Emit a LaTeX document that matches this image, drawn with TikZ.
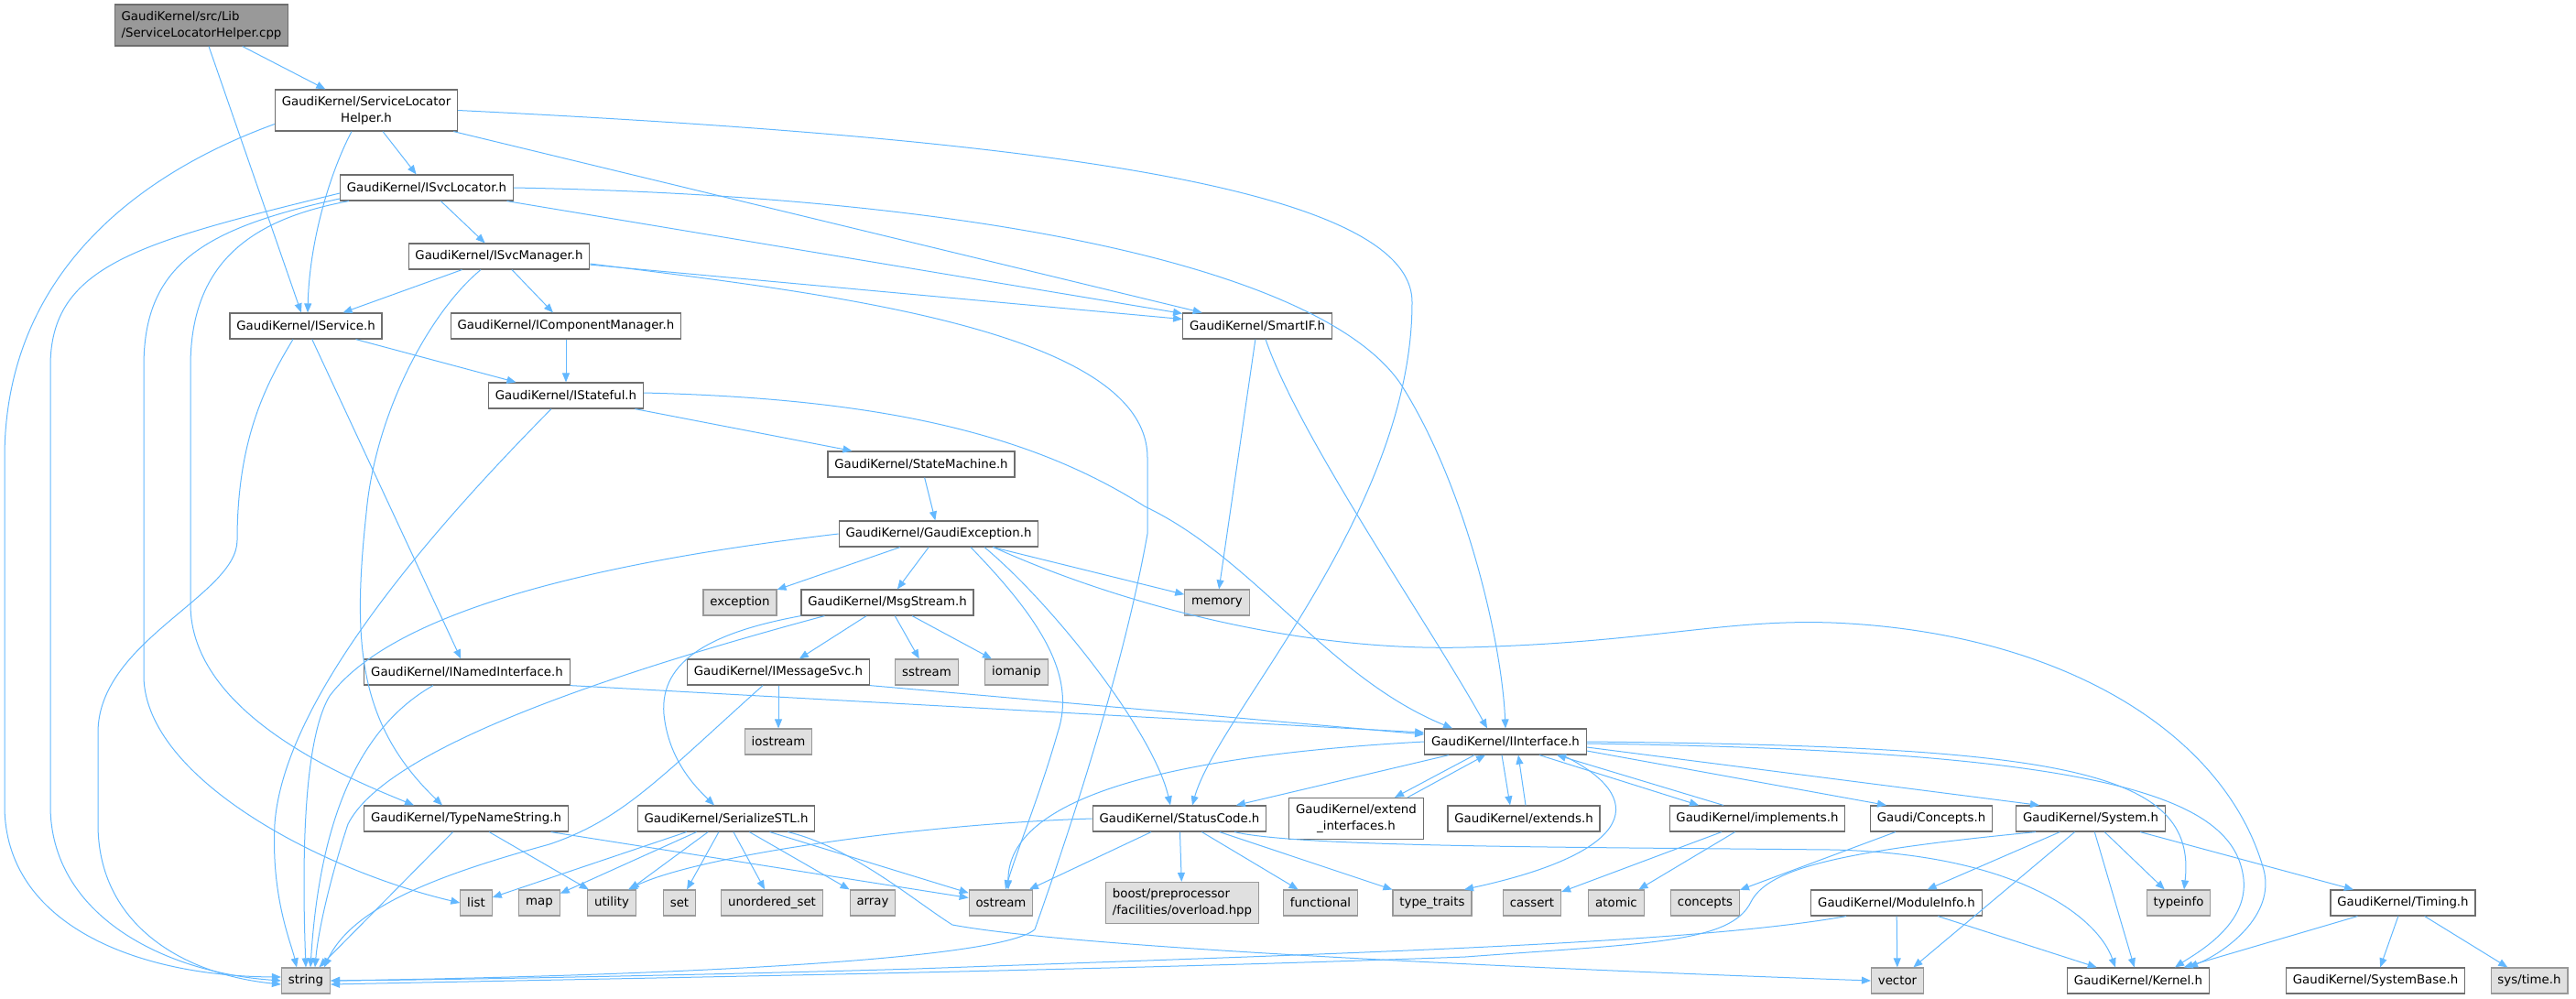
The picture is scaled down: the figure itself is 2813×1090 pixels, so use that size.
\documentclass[tikz,border=0pt]{standalone}
\usepackage{fontspec}
\setmainfont{DejaVu Sans}
\usetikzlibrary{arrows.meta,positioning,calc}
\definecolor{incblue}{RGB}{99,184,255}
\definecolor{boxline}{RGB}{110,110,110}
\definecolor{sysline}{RGB}{153,153,153}
\definecolor{sysfill}{RGB}{224,224,224}
\definecolor{rootfill}{RGB}{153,153,153}

\begin{document}
\begin{tikzpicture}[x=0.75pt, y=-0.75pt,
  hdr/.style={draw=boxline, fill=white, line width=0.9pt, font=\fontsize{10}{13.3}\selectfont,
    inner xsep=5.5pt, inner ysep=0pt, minimum height=21pt},
  sysbox/.style={hdr, draw=sysline, fill=sysfill},
  rootbox/.style={hdr, fill=rootfill, minimum height=33.75pt},
  twoline/.style={minimum height=33.75pt},
  dep/.style={draw=incblue, line width=0.75pt, -{Triangle[length=7.5pt,width=6pt]}}]
  \useasboundingbox (0,0) rectangle (2813,1090);
  % --- upper headers
  \node[rootbox, align=left] (cpp) at (220,27.5) {GaudiKernel/src/Lib\\/ServiceLocatorHelper.cpp};
  \node[hdr, twoline, align=center] (slh) at (400,120.5) {GaudiKernel/ServiceLocator\\Helper.h};
  \node[hdr] (isl) at (466,205) {GaudiKernel/ISvcLocator.h};
  \node[hdr] (ism) at (545,280) {GaudiKernel/ISvcManager.h};
  \node[hdr] (isv) at (334,356) {GaudiKernel/IService.h};
  \node[hdr] (icm) at (618,356) {GaudiKernel/IComponentManager.h};
  \node[hdr] (sif) at (1373,356) {GaudiKernel/SmartIF.h};
  \node[hdr] (ist) at (618,432) {GaudiKernel/IStateful.h};
  \node[hdr] (stm) at (1006,507) {GaudiKernel/StateMachine.h};
  \node[hdr] (gex) at (1025,583) {GaudiKernel/GaudiException.h};
  \node[sysbox] (exc) at (808,658) {exception};
  \node[hdr] (msg) at (969,658) {GaudiKernel/MsgStream.h};
  \node[sysbox] (mem) at (1329,658) {memory};
  \node[hdr] (ini) at (510,734) {GaudiKernel/INamedInterface.h};
  \node[hdr] (ims) at (850,734) {GaudiKernel/IMessageSvc.h};
  \node[sysbox] (sst) at (1012,734) {sstream};
  \node[sysbox] (iom) at (1110,734) {iomanip};
  \node[sysbox] (ios) at (850,810) {iostream};
  \node[hdr] (iif) at (1644,810) {GaudiKernel/IInterface.h};
  % --- middle row
  \node[hdr] (tns) at (509,894) {GaudiKernel/TypeNameString.h};
  \node[hdr] (ser) at (793,894) {GaudiKernel/SerializeSTL.h};
  \node[hdr] (stc) at (1288,894) {GaudiKernel/StatusCode.h};
  \node[hdr, twoline, align=center] (exi) at (1481,894) {GaudiKernel/extend\\\_interfaces.h};
  \node[hdr] (ext) at (1664,894) {GaudiKernel/extends.h};
  \node[hdr] (imp) at (1919,894) {GaudiKernel/implements.h};
  \node[hdr] (cpt) at (2109,894) {Gaudi/Concepts.h};
  \node[hdr] (sysh) at (2283,894) {GaudiKernel/System.h};
  % --- lower rows
  \node[sysbox] (lst) at (520,986) {list};
  \node[sysbox] (map) at (589,986) {map};
  \node[sysbox] (utl) at (668,986) {utility};
  \node[sysbox] (set) at (742,986) {set};
  \node[sysbox] (uos) at (843,986) {unordered\_set};
  \node[sysbox] (arr) at (953,986) {array};
  \node[sysbox] (ost) at (1093,986) {ostream};
  \node[sysbox, twoline, align=left] (bst) at (1291,986) {boost/preprocessor\\/facilities/overload.hpp};
  \node[sysbox] (fun) at (1442,986) {functional};
  \node[sysbox] (ttr) at (1564,986) {type\_traits};
  \node[sysbox] (cas) at (1673,986) {cassert};
  \node[sysbox] (atm) at (1765,986) {atomic};
  \node[sysbox] (ccp) at (1862,986) {concepts};
  \node[hdr] (mod) at (2071,986) {GaudiKernel/ModuleInfo.h};
  \node[sysbox] (tin) at (2379,986) {typeinfo};
  \node[hdr] (tim) at (2624,986) {GaudiKernel/Timing.h};
  \node[sysbox] (str) at (334,1071) {string};
  \node[sysbox] (vec) at (2072,1071) {vector};
  \node[hdr] (ker) at (2335,1071) {GaudiKernel/Kernel.h};
  \node[hdr] (sbs) at (2594,1071) {GaudiKernel/SystemBase.h};
  \node[sysbox] (stime) at (2762,1071) {sys/time.h};

  % --- source file and ServiceLocatorHelper.h
  \draw[dep] (cpp) -- (slh);
  \draw[dep] (cpp) -- (isv);
  \draw[dep] (slh) -- (isl);
  \draw[dep] ($(slh.south)+(-16,0)$) .. controls (362,185) and (338,260) .. ($(isv.north)+(2,0)$);
  \draw[dep] (slh) -- (sif);
  \draw[dep] ($(slh.west)+(0,15)$) .. controls (150,190) and (5,300) .. (5,500) -- (5,880) .. controls (5,1010) and (150,1066) .. ($(str.west)+(0,-4)$);
  \draw[dep] (slh.east) .. controls (1100,150) and (1542,200) .. (1542,330) .. controls (1542,560) and (1330,780) .. ($(stc.north)+(14,0)$);
  % --- ISvcLocator.h
  \draw[dep] (isl) -- (ism);
  \draw[dep] (isl) -- (sif);
  \draw[dep] (isl.east) .. controls (1100,215) and (1450,300) .. (1530,420) .. controls (1600,530) and (1640,700) .. (iif.north);
  \draw[dep] ($(isl.west)+(0,6)$) .. controls (150,265) and (55,290) .. (55,400) -- (55,880) .. controls (55,1000) and (180,1062) .. (str.west);
  \draw[dep] ($(isl.west)+(0,12)$) .. controls (220,250) and (157,290) .. (157,400) -- (157,740) .. controls (160,850) and (350,950) .. (lst.west);
  \draw[dep] ($(isl.south west)+(10,0)$) .. controls (270,240) and (208,290) .. (208,400) -- (208,660) .. controls (208,780) and (380,850) .. ($(tns.north)+(-57,0)$);
  % --- ISvcManager.h
  \draw[dep] (ism) -- (isv);
  \draw[dep] (ism) -- (icm);
  \draw[dep] (ism) -- (sif);
  \draw[dep] ($(ism.south)+(-20,0)$) .. controls (470,340) and (410,450) .. (400,560) .. controls (385,700) and (390,790) .. ($(tns.north)+(-26,0)$);
  \draw[dep] ($(ism.east)+(0,8)$) .. controls (900,320) and (1253,360) .. (1253,500) -- (1253,583) .. controls (1225,740) and (1160,930) .. (1130,1015) .. controls (1090,1050) and (700,1066) .. (str.east);
  % --- IService.h, IComponentManager.h, IStateful.h
  \draw[dep] (isv) -- (ist);
  \draw[dep] (isv) -- (ini);
  \draw[dep] ($(isv.south)+(-14,0)$) .. controls (290,420) and (259,480) .. (259,590) .. controls (259,650) and (107,700) .. (107,800) -- (107,900) .. controls (107,1010) and (200,1064) .. ($(str.west)+(0,4)$);
  \draw[dep] (icm) -- (ist);
  \draw[dep] (ist) -- (stm);
  \draw[dep] ($(ist.east)+(0,-3)$) .. controls (950,435) and (1120,470) .. (1250,553) .. controls (1370,610) and (1450,740) .. ($(iif.north)+(-58,0)$);
  \draw[dep] ($(ist.south)+(-16,0)$) .. controls (480,570) and (310,760) .. (300,900) .. controls (296,980) and (318,1030) .. ($(str.north)+(-10,0)$);
  % --- SmartIF.h
  \draw[dep] (sif) -- (mem);
  \draw[dep] ($(sif.south)+(9,0)$) .. controls (1420,480) and (1560,680) .. ($(iif.north)+(-20,0)$);
  % --- StateMachine.h, GaudiException.h
  \draw[dep] (stm) -- (gex);
  \draw[dep] (gex) -- (exc);
  \draw[dep] (gex) -- (msg);
  \draw[dep] (gex) -- (mem);
  \draw[dep] (gex.west) .. controls (600,620) and (420,680) .. (360,760) .. controls (330,810) and (330,950) .. (str.north);
  \draw[dep] ($(gex.south)+(35,0)$) .. controls (1140,680) and (1175,740) .. (1155,800) .. controls (1135,870) and (1110,930) .. ($(ost.north)+(5,0)$);
  \draw[dep] ($(gex.south)+(50,0)$) .. controls (1150,660) and (1260,800) .. ($(stc.north)+(-10,0)$);
  \draw[dep] ($(gex.south)+(60,0)$) .. controls (1200,650) and (1400,712) .. (1600,707) .. controls (1800,702) and (1880,676) .. (2000,680) .. controls (2250,690) and (2430,800) .. (2472,950) .. controls (2485,1000) and (2430,1040) .. ($(ker.north)+(55,0)$);
  % --- MsgStream.h, IMessageSvc.h, INamedInterface.h
  \draw[dep] (msg) -- (ims);
  \draw[dep] (msg) -- (sst);
  \draw[dep] (msg) -- (iom);
  \draw[dep] (msg.south west) .. controls (780,690) and (720,720) .. (725,780) .. controls (730,830) and (760,860) .. ($(ser.north)+(-13,0)$);
  \draw[dep] ($(msg.south west)+(26,0)$) .. controls (650,740) and (420,820) .. (380,900) .. controls (365,945) and (348,1010) .. ($(str.north)+(10,0)$);
  \draw[dep] (ims) -- (ios);
  \draw[dep] (ims.south east) -- ($(iif.west)+(0,-8)$);
  \draw[dep] ($(ims.south)+(-17,0)$) .. controls (720,850) and (680,895) .. (600,922) .. controls (480,955) and (385,990) .. ($(str.north)+(20,0)$);
  \draw[dep] (ini.south east) -- ($(iif.west)+(0,-10)$);
  \draw[dep] ($(ini.south)+(-37,0)$) .. controls (400,790) and (350,880) .. ($(str.north)+(5,0)$);
  % --- IInterface.h
  \draw[dep] (iif) -- (stc);
  \draw[dep] (iif.west) .. controls (1280,825) and (1100,870) .. ($(ost.north)+(8,0)$);
  \draw[dep] ($(iif.south)+(-34,0)$) -- ($(exi.north)+(42,0)$);
  \draw[dep] ($(exi.north)+(56,0)$) -- ($(iif.south)+(-22,0)$);
  \draw[dep] ($(iif.south)+(-4,0)$) -- ($(ext.north)+(-15,0)$);
  \draw[dep] ($(ext.north)+(2,0)$) -- ($(iif.south)+(14,0)$);
  \draw[dep] ($(iif.south)+(37,0)$) -- ($(imp.north)+(-64,0)$);
  \draw[dep] ($(imp.north)+(-37,0)$) -- ($(iif.south)+(56,0)$);
  \draw[dep] ($(iif.east)+(0,10)$) -- ($(cpt.north)+(-49,0)$);
  \draw[dep] ($(iif.east)+(0,6)$) -- ($(sysh.north)+(-56,0)$);
  \draw[dep] ($(iif.south)+(62,0)$) .. controls (1800,870) and (1790,930) .. ($(ttr.north)+(35,0)$);
  \draw[dep] (iif.east) .. controls (2250,815) and (2400,840) .. ($(tin.north)+(6,0)$);
  \draw[dep] ($(iif.east)+(0,2)$) .. controls (2300,820) and (2440,870) .. (2450,960) .. controls (2455,1010) and (2400,1040) .. ($(ker.north)+(40,0)$);
  % --- TypeNameString.h, SerializeSTL.h
  \draw[dep] (tns) -- (str);
  \draw[dep] (tns) -- (utl);
  \draw[dep] (tns) -- (ost);
  \foreach \t in {lst,map,utl,set,uos,arr,ost}
    \draw[dep] (ser) -- (\t);
  \draw[dep] ($(ser.south east)+(-30,0)$) .. controls (930,925) and (1000,985) .. (1040,1010) .. controls (1200,1040) and (1850,1064) .. (vec.west);
  % --- StatusCode.h
  \foreach \t in {ost,bst,fun,ttr}
    \draw[dep] (stc) -- (\t);
  \draw[dep] (stc.west) .. controls (1000,900) and (760,935) .. ($(utl.north)+(18,0)$);
  \draw[dep] ($(stc.south)+(60,0)$) .. controls (1420,925) and (1700,925) .. (2000,928) .. controls (2200,932) and (2290,1000) .. ($(ker.north)+(-25,0)$);
  % --- implements.h, Concepts.h, System.h, ModuleInfo.h, Timing.h
  \draw[dep] (imp) -- (cas);
  \draw[dep] (imp) -- (atm);
  \draw[dep] (cpt) -- (ccp);
  \foreach \t in {mod,ker,tin,tim,vec}
    \draw[dep] (sysh) -- (\t);
  \draw[dep] ($(sysh.south)+(-60,0)$) .. controls (2000,930) and (1930,950) .. (1912,985) .. controls (1890,1030) and (1800,1030) .. (1600,1045) .. controls (1200,1060) and (700,1068) .. ($(str.east)+(0,4)$);
  \draw[dep] (mod) -- (vec);
  \draw[dep] (mod) -- (ker);
  \draw[dep] ($(mod.south)+(-55,0)$) .. controls (1850,1030) and (1500,1040) .. (1000,1058) .. controls (800,1064) and (500,1070) .. (str.east);
  \draw[dep] (tim) -- (ker);
  \draw[dep] (tim) -- (sbs);
  \draw[dep] (tim) -- (stime);
\end{tikzpicture}
\end{document}
